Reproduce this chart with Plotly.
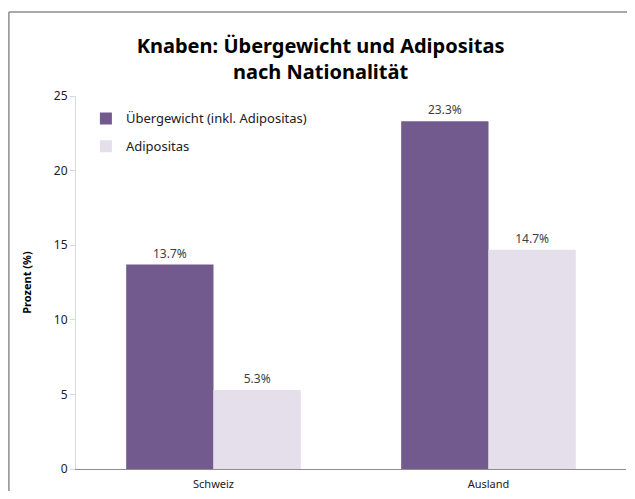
import plotly.graph_objects as go

categories = ['Schweiz', 'Ausland']
uebergewicht = [13.7, 23.3]
adipositas = [5.3, 14.7]
series_names = ['Übergewicht (inkl. Adipositas)', 'Adipositas']
y_ticks = [0, 5, 10, 15, 20, 25]

COLORS = {'dark': '#725A8E', 'light': '#E5DFEC', 'text': '#404040', 'axis': '#8C8C8C'}
FONT = 'Noto Sans'

fig = go.Figure()

for i, (name, vals, color) in enumerate([(series_names[0], uebergewicht, COLORS['dark']),
                                         (series_names[1], adipositas, COLORS['light'])]):
    fig.add_trace(go.Bar(
        x=categories, y=vals, name=name, legendgroup=f'g{i}',
        marker={'color': color, 'line': {'width': 0}},
        text=[f"{v:.1f}%" for v in vals],
        textposition='outside', cliponaxis=False,
        textfont={'size': 12, 'color': COLORS['text'], 'family': FONT},
    ))

fig.update_xaxes(showline=True, linecolor=COLORS['axis'], linewidth=1,
                 ticks='', ticklabelstandoff=5, automargin=False,
                 tickfont={'size': 11, 'color': '#202020', 'family': FONT})
fig.update_yaxes(range=[0, 25], tickvals=y_ticks, showgrid=False, zeroline=False,
                 showline=True, linecolor='#D9D9D9', linewidth=1,
                 ticks='outside', ticklen=5, tickcolor='#D9D9D9', automargin=False,
                 tickfont={'size': 12, 'color': '#202020', 'family': FONT},
                 title_text='<b>Prozent (%)</b>', title_standoff=20,
                 title_font={'size': 11, 'color': '#000000', 'family': FONT})

# chart frame: only the left and top edges are visible in the picture
frame = {'color': '#8C8C8C', 'width': 1.5}
frame_lines = [
    {'type': 'line', 'xref': 'paper', 'yref': 'paper',
     'x0': -0.122, 'x1': -0.122, 'y0': -0.2, 'y1': 1.225, 'line': frame, 'layer': 'below'},
    {'type': 'line', 'xref': 'paper', 'yref': 'paper',
     'x0': -0.122, 'x1': 1.1, 'y0': 1.225, 'y1': 1.225, 'line': frame, 'layer': 'below'},
]

# page body has an 8px margin all round, so the figure is 619x483 to avoid scrollbars
fig.update_layout(
    title={'text': '<b>Knaben: Übergewicht und Adipositas<br>nach Nationalität</b>',
           'x': 0.505, 'xanchor': 'center', 'y': 0.907, 'yanchor': 'top',
           'font': {'size': 20, 'color': '#000000', 'family': FONT}},
    barmode='group', bargap=0.365, bargroupgap=0,
    plot_bgcolor='white', paper_bgcolor='white',
    width=619, height=483,
    margin={'l': 68, 'r': 1, 't': 88, 'b': 22, 'autoexpand': False},
    legend={'x': 0.018, 'y': 0.98, 'xanchor': 'left', 'yanchor': 'top',
            'font': {'size': 13, 'color': '#202020', 'family': FONT},
            'itemwidth': 30, 'tracegroupgap': 8, 'bgcolor': 'rgba(0,0,0,0)'},
    showlegend=True,
    shapes=frame_lines,
)

fig.write_html("out.html")
